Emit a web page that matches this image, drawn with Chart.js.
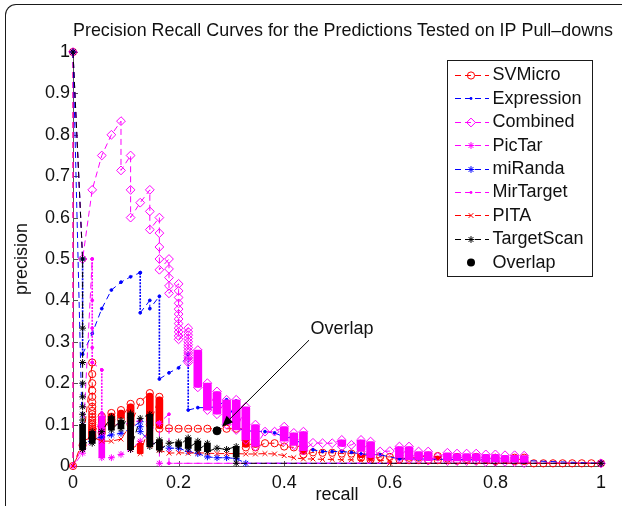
<!DOCTYPE html>
<html>
<head>
<meta charset="utf-8">
<title>Precision Recall Curves</title>
<script src="https://cdn.jsdelivr.net/npm/chart.js@4.4.0/dist/chart.umd.min.js"></script>
<style>
  html, body { margin: 0; padding: 0; background: #ffffff; }
  #wrap { position: relative; width: 622px; height: 506px; overflow: hidden; }
  #wrap canvas { position: absolute; left: 0; top: 0; }
  #frame {
    position: absolute; left: 5px; top: 4px; width: 700px; height: 600px;
    border-top: 1px solid #1a1a1a; border-left: 1px solid #1a1a1a;
    border-top-left-radius: 11px; pointer-events: none;
  }
</style>
</head>
<body>
<div id="wrap">
  <canvas id="chart" width="622" height="506"></canvas>
  <div id="frame"></div>
</div>
<script>
// ---------------------------------------------------------------------------
// Axis tick labels
// ---------------------------------------------------------------------------
const xTickLabels = ['0', '0.2', '0.4', '0.6', '0.8', '1'];
const yTickLabels = ['0', '0.1', '0.2', '0.3', '0.4', '0.5', '0.6', '0.7', '0.8', '0.9', '1'];

// ---------------------------------------------------------------------------
// Curve data: single points (recall, precision) plus dense runs of points
// at one recall level (stackRecall, stackTop, stackBottom)
// ---------------------------------------------------------------------------

// SVMicro
const svmicroRecall = [0, 0, 0.0182,
  0.0364, 0.0364, 0.0364, 0.0364, 0.0364, 0.0364, 0.0364, 0.0364, 0.0364, 0.0364, 0.0364,
  0.0364, 0.0364, 0.0364, 0.0364, 0.0364, 0.0364, 0.0364, 0.0364, 0.0364, 0.0364, 0.0364,
  0.1273, 0.1818, 0.2, 0.2182, 0.2364, 0.2545, 0.2909, 0.3091,
  0.3636, 0.3818, 0.4, 0.4182, 0.4545, 0.4727, 0.4909, 0.5091, 0.5273,
  0.5818, 0.6, 0.6364, 0.6545, 0.7091, 0.7455, 0.7818, 0.8182,
  0.8727, 0.8909, 0.9091, 0.9273, 0.9455, 0.9636, 0.9818, 1];
const svmicroPrecision = [1, 0, 0.05,
  0.25, 0.222, 0.2, 0.182, 0.167, 0.154, 0.143, 0.133, 0.125, 0.118, 0.111,
  0.105, 0.1, 0.095, 0.091, 0.087, 0.083, 0.08, 0.077, 0.074, 0.071, 0.068,
  0.155, 0.091, 0.09, 0.09, 0.09, 0.09, 0.09, 0.09,
  0.055, 0.055, 0.047, 0.045, 0.033, 0.032, 0.032, 0.03, 0.03,
  0.022, 0.022, 0.02, 0.02, 0.018, 0.017, 0.016, 0.016,
  0.0065, 0.0065, 0.0065, 0.0065, 0.0065, 0.0065, 0.0065, 0.0065];
const svmicroStackRecall = [0.0545, 0.0727, 0.0909, 0.1091, 0.1455, 0.1636,
  0.3273, 0.3455, 0.4364, 0.5455, 0.5636, 0.6182, 0.6727, 0.6909, 0.7273, 0.7636, 0.8, 0.8364, 0.8545];
const svmicroStackTop = [0.12, 0.128, 0.135, 0.15, 0.176, 0.167,
  0.09, 0.06, 0.05, 0.03, 0.03, 0.025, 0.025, 0.024, 0.022, 0.022, 0.02, 0.02, 0.02];
const svmicroStackBottom = [0.08, 0.1, 0.115, 0.1, 0.1, 0.09,
  0.045, 0.045, 0.028, 0.02, 0.015, 0.016, 0.014, 0.014, 0.013, 0.013, 0.012, 0.012, 0.012];

// Expression
const expressionRecall = [0, 0.0182, 0.0364, 0.0545, 0.0727, 0.0909, 0.1091, 0.1273,
  0.1455, 0.1455, 0.1818, 0.2, 0.2364, 0.2545, 0.2727, 0.3273, 0.3636, 0.3818,
  0.4, 0.4182, 0.4364, 0.4545, 0.4727, 0.4909, 0.5091, 0.5273, 0.5455, 0.5818,
  0.6182, 0.6545, 0.7091, 0.7636, 0.8182, 0.8545, 1];
const expressionPrecision = [1, 0.5, 0.32, 0.38, 0.425, 0.444, 0.457, 0.467,
  0.4, 0.38, 0.225, 0.237, 0.141, 0.141, 0.143, 0.085, 0.083, 0.08,
  0.07, 0.067, 0.05, 0.039, 0.035, 0.035, 0.035, 0.033, 0.029, 0.027,
  0.017, 0.017, 0.016, 0.015, 0.014, 0.013, 0.0065];
const expressionStackRecall = [0.0182, 0.1273, 0.1636, 0.2182, 0.2909, 0.3091];
const expressionStackTop = [0.5, 0.467, 0.41, 0.27, 0.16, 0.157];
const expressionStackBottom = [0.27, 0.37, 0.21, 0.135, 0.105, 0.092];

// Combined
const combinedRecall = [0, 0.0182, 0.0364, 0.0545, 0.0727, 0.0909, 0.0909,
  0.1091, 0.1091, 0.1091, 0.1273, 0.1455, 0.1455, 0.1455,
  0.1636, 0.1636, 0.1636, 0.1636, 0.1636,
  0.1818, 0.1818, 0.1818, 0.1818, 0.1818,
  0.2, 0.2, 0.2, 0.2, 0.2, 0.2, 0.2, 0.2, 0.2, 0.2, 0.2, 0.2,
  0.2182, 0.2182, 0.2182, 0.2182, 0.2182, 0.2182, 0.2182, 0.2182, 0.2182, 0.2182, 0.2182, 0.2182, 0.2182,
  0.3636, 0.3818, 0.4545, 0.4727, 0.4909, 0.5273, 0.5818, 0.6, 0.6909, 1];
const combinedPrecision = [1, 0.5, 0.667, 0.75, 0.8, 0.833, 0.714,
  0.75, 0.667, 0.6, 0.636, 0.667, 0.615, 0.571,
  0.6, 0.5625, 0.529, 0.5, 0.474,
  0.5, 0.476, 0.455, 0.435, 0.417,
  0.44, 0.423, 0.407, 0.393, 0.379, 0.367, 0.355, 0.344, 0.333, 0.324, 0.314, 0.306,
  0.333, 0.324, 0.316, 0.308, 0.3, 0.293, 0.286, 0.279, 0.273, 0.267, 0.261, 0.255, 0.25,
  0.083, 0.083, 0.056, 0.055, 0.055, 0.051, 0.035, 0.036, 0.022, 0.0065];
const combinedStackRecall = [0.2364, 0.2545, 0.2727, 0.2909, 0.3091, 0.3273, 0.3455,
  0.4, 0.4182, 0.4364, 0.5091, 0.5455, 0.5636, 0.6182, 0.6364, 0.6545, 0.6727,
  0.7091, 0.7273, 0.7455, 0.7636, 0.7818, 0.8, 0.8182, 0.8364, 0.8545];
const combinedStackTop = [0.28, 0.2, 0.18, 0.16, 0.16, 0.143, 0.1,
  0.095, 0.08, 0.083, 0.063, 0.063, 0.059, 0.047, 0.047, 0.035, 0.035,
  0.032, 0.03, 0.03, 0.03, 0.028, 0.028, 0.026, 0.026, 0.025];
const combinedStackBottom = [0.19, 0.135, 0.125, 0.1, 0.087, 0.063, 0.047,
  0.06, 0.05, 0.037, 0.047, 0.035, 0.02, 0.02, 0.015, 0.015, 0.013,
  0.012, 0.012, 0.012, 0.012, 0.01, 0.01, 0.01, 0.009, 0.007];

// PicTar
const pictarRecall = [0, 0, 0.0182, 0.0364, 0.0727, 0.0909, 0.1091, 0.1273, 0.1455, 0.1636, 0.1636, 1];
const pictarPrecision = [1, 0, 0.031, 0.063, 0.02, 0.028, 0.04, 0.06, 0.085, 0.103, 0.0065, 0.0065];
const pictarStackRecall = [0.0545];
const pictarStackTop = [0.12];
const pictarStackBottom = [0.02];

// miRanda
const mirandaRecall = [0, 0.0182, 0.0364, 0.0545, 0.0727, 0.0909, 0.1091,
  0.1273, 0.1273, 0.1273, 0.1455, 0.1636, 0.1818, 0.2, 0.2182, 0.2364,
  0.2545, 0.2727, 0.2909, 0.3091, 0.3273, 1];
const mirandaPrecision = [1, 0.05, 0.065, 0.07, 0.075, 0.079, 0.09,
  0.107, 0.095, 0.083, 0.06, 0.047, 0.043, 0.043, 0.035, 0.03,
  0.022, 0.02, 0.02, 0.018, 0.0065, 0.0065];
const mirandaStackRecall = [];
const mirandaStackTop = [];
const mirandaStackBottom = [];

// MirTarget
const mirtargetRecall = [0, 0.0182, 0.0364, 0.0364, 0.0364, 0.0364, 0.0364,
  0.0545, 0.0545, 0.0727, 0.0909, 0.1091, 0.1273, 0.1455, 0.1636, 0.1818, 0.1818, 1];
const mirtargetPrecision = [0, 0.046, 0.5, 0.4, 0.333, 0.286, 0.25,
  0.232, 0.128, 0.1, 0.1, 0.105, 0.11, 0.105, 0.105, 0.125, 0.0065, 0.0065];
const mirtargetStackRecall = [0.0364, 0.0545];
const mirtargetStackTop = [0.5, 0.232];
const mirtargetStackBottom = [0.25, 0.128];

// PITA
const pitaRecall = [0, 0.0182, 0.0364, 0.0545, 0.0727, 0.0909,
  0.1818, 0.2, 0.2182, 0.2364, 0.2545, 0.2727, 0.2909, 0.3091, 0.3273, 0.3455,
  0.3636, 0.3818, 0.4, 0.4182, 0.4364, 0.4545, 0.4727, 0.4909, 0.5091, 0.5273,
  0.5455, 0.5636, 0.5818, 0.6, 0.6, 1];
const pitaPrecision = [0, 0.06, 0.07, 0.06, 0.06, 0.065,
  0.031, 0.032, 0.031, 0.032, 0.031, 0.03, 0.03, 0.03, 0.029, 0.029,
  0.03, 0.029, 0.025, 0.02, 0.017, 0.017, 0.016, 0.016, 0.015, 0.015,
  0.014, 0.014, 0.013, 0.013, 0.0065, 0.0065];
const pitaStackRecall = [0.1091, 0.1273, 0.1455, 0.1636];
const pitaStackTop = [0.1, 0.055, 0.1, 0.058];
const pitaStackBottom = [0.04, 0.03, 0.05, 0.038];

// TargetScan
const targetscanRecall = [0,
  0.0182, 0.0182, 0.0182, 0.0182, 0.0182, 0.0182, 0.0182, 0.0182,
  0.0545, 0.1273, 0.1818, 0.2727, 0.2909, 0.3091, 1];
const targetscanPrecision = [1,
  0.5, 0.333, 0.25, 0.2, 0.167, 0.143, 0.125, 0.111,
  0.083, 0.115, 0.055, 0.043, 0.04, 0.0065, 0.0065];
const targetscanStackRecall = [0.0182, 0.0364, 0.0727, 0.0909, 0.1091, 0.1455, 0.1636,
  0.2, 0.2182, 0.2364, 0.2545, 0.3091];
const targetscanStackTop = [0.1, 0.083, 0.119, 0.11, 0.128, 0.125, 0.063,
  0.058, 0.068, 0.06, 0.055, 0.047];
const targetscanStackBottom = [0.04, 0.055, 0.087, 0.09, 0.04, 0.047, 0.039,
  0.048, 0.043, 0.038, 0.035, 0.022];

// Overlap
const overlapRecall = [0.2727];
const overlapPrecision = [0.085];

// ---------------------------------------------------------------------------
// Styling
// ---------------------------------------------------------------------------
const FONT_FAMILY = '"Liberation Sans", Arial, Helvetica, sans-serif';
const FONT_SIZE = 18;
const TITLE_SIZE = 17.9;
const TEXT_COLOR = '#111111';
const AXIS_COLOR = '#555555';
const DASH = [6, 4];
const RUN_DASH = [2, 1.2];

const RED = '#ff0000', BLUE = '#0000ff', MAGENTA = '#ff00ff', BLACK = '#000000';

Chart.defaults.font.family = FONT_FAMILY;

// stackWidth > 0: dense runs drawn as filled columns; 0: drawn as a dotted vertical
const series = [
  { label: 'SVMicro', color: RED, marker: 'circle', radius: 3.6, open: true, stackWidth: 7, stackRadius: 4,
    recall: svmicroRecall, precision: svmicroPrecision,
    stackRecall: svmicroStackRecall, stackTop: svmicroStackTop, stackBottom: svmicroStackBottom },
  { label: 'Expression', color: BLUE, marker: 'dot', radius: 1.4, open: false, stackWidth: 0, stackRadius: 0,
    recall: expressionRecall, precision: expressionPrecision,
    stackRecall: expressionStackRecall, stackTop: expressionStackTop, stackBottom: expressionStackBottom },
  { label: 'Combined', color: MAGENTA, marker: 'rectRot', radius: 4.4, open: true, stackWidth: 8, stackRadius: 2,
    recall: combinedRecall, precision: combinedPrecision,
    stackRecall: combinedStackRecall, stackTop: combinedStackTop, stackBottom: combinedStackBottom },
  { label: 'PicTar', color: MAGENTA, marker: 'star', radius: 3.4, open: false, stackWidth: 6, stackRadius: 1,
    recall: pictarRecall, precision: pictarPrecision,
    stackRecall: pictarStackRecall, stackTop: pictarStackTop, stackBottom: pictarStackBottom },
  { label: 'miRanda', color: BLUE, marker: 'star', radius: 3.4, open: false, stackWidth: 6, stackRadius: 1,
    recall: mirandaRecall, precision: mirandaPrecision,
    stackRecall: mirandaStackRecall, stackTop: mirandaStackTop, stackBottom: mirandaStackBottom },
  { label: 'MirTarget', color: MAGENTA, marker: 'dot', radius: 1.4, open: false, stackWidth: 0, stackRadius: 0,
    recall: mirtargetRecall, precision: mirtargetPrecision,
    stackRecall: mirtargetStackRecall, stackTop: mirtargetStackTop, stackBottom: mirtargetStackBottom },
  { label: 'PITA', color: RED, marker: 'crossRot', radius: 3.4, open: false, stackWidth: 6, stackRadius: 1,
    recall: pitaRecall, precision: pitaPrecision,
    stackRecall: pitaStackRecall, stackTop: pitaStackTop, stackBottom: pitaStackBottom },
  { label: 'TargetScan', color: BLACK, marker: 'star', radius: 3.4, open: false, stackWidth: 6, stackRadius: 1,
    recall: targetscanRecall, precision: targetscanPrecision,
    stackRecall: targetscanStackRecall, stackTop: targetscanStackTop, stackBottom: targetscanStackBottom }
];

// Ordered path of a curve: single points and run ends, by recall, then precision falling
function curvePoints(s) {
  const pts = s.recall.map((r, i) => ({ x: r, y: s.precision[i] }));
  s.stackRecall.forEach((r, i) => {
    pts.push({ x: r, y: s.stackTop[i] });
    pts.push({ x: r, y: s.stackBottom[i] });
  });
  pts.sort((a, b) => (a.x - b.x) || (b.y - a.y));
  return pts;
}

function stackBars(s) {
  return s.stackRecall.map((r, i) => ({ x: r, y: [s.stackBottom[i], s.stackTop[i]] }));
}

// a segment inside one recall level that belongs to a dense run
function isRunSegment(s, ctx) {
  const x0 = ctx.p0.parsed.x, x1 = ctx.p1.parsed.x;
  if (x0 !== x1) return false;
  const y0 = ctx.p0.parsed.y, y1 = ctx.p1.parsed.y;
  return s.stackRecall.some((r, i) => r === x0 &&
    Math.max(y0, y1) <= s.stackTop[i] + 1e-9 && Math.min(y0, y1) >= s.stackBottom[i] - 1e-9);
}

const datasets = [];
series.forEach((s, i) => {
  const level = 100 - 2 * i;           // later curves are painted over earlier ones
  if (s.stackWidth > 0) {
    datasets.push({
      type: 'bar',
      label: s.label + ' runs',
      data: stackBars(s),
      backgroundColor: s.color,
      borderWidth: 0,
      borderSkipped: false,
      borderRadius: s.stackRadius,
      barThickness: s.stackWidth,
      grouped: false,
      order: level
    });
  }
  const ds = {
    type: 'line',
    label: s.label,
    data: curvePoints(s),
    borderColor: s.color,
    borderWidth: 1,
    borderDash: DASH,
    pointStyle: s.marker === 'dot' ? 'circle' : s.marker,
    pointRadius: s.radius,
    pointBorderWidth: 1,
    pointBorderColor: s.color,
    pointBackgroundColor: s.open ? 'rgba(0,0,0,0)' : s.color,
    tension: 0,
    fill: false,
    clip: false,
    order: level - 1
  };
  if (s.stackWidth === 0) {
    ds.segment = {
      borderDash: ctx => isRunSegment(s, ctx) ? RUN_DASH : undefined,
      borderWidth: ctx => isRunSegment(s, ctx) ? 1.6 : undefined
    };
  }
  datasets.push(ds);
});
datasets.push({
  type: 'line',
  label: 'Overlap',
  data: overlapRecall.map((r, i) => ({ x: r, y: overlapPrecision[i] })),
  showLine: false,
  pointStyle: 'circle',
  pointRadius: 4,
  pointBorderWidth: 1,
  pointBorderColor: BLACK,
  pointBackgroundColor: BLACK,
  clip: false,
  order: 0
});

// ---------------------------------------------------------------------------
// Marker drawing for the legend keys
// ---------------------------------------------------------------------------
function drawMarker(ctx, style, x, y, r, color, open) {
  ctx.save();
  ctx.strokeStyle = color;
  ctx.fillStyle = color;
  ctx.lineWidth = 1;
  ctx.setLineDash([]);
  ctx.beginPath();
  if (style === 'circle') {
    ctx.arc(x, y, r, 0, Math.PI * 2);
    if (!open) ctx.fill();
    ctx.stroke();
  } else if (style === 'dot') {
    ctx.arc(x, y, r, 0, Math.PI * 2);
    ctx.fill();
  } else if (style === 'rectRot') {
    ctx.moveTo(x, y - r); ctx.lineTo(x + r, y); ctx.lineTo(x, y + r); ctx.lineTo(x - r, y); ctx.closePath();
    ctx.stroke();
  } else if (style === 'crossRot' || style === 'star') {
    const d = r * Math.SQRT1_2;
    ctx.moveTo(x - d, y - d); ctx.lineTo(x + d, y + d);
    ctx.moveTo(x - d, y + d); ctx.lineTo(x + d, y - d);
    if (style === 'star') {
      ctx.moveTo(x, y - r); ctx.lineTo(x, y + r);
      ctx.moveTo(x - r, y); ctx.lineTo(x + r, y);
    }
    ctx.stroke();
  }
  ctx.restore();
}

// ---------------------------------------------------------------------------
// Plot decorations: inward ticks, titles, annotation, legend box
// ---------------------------------------------------------------------------
const annotationText = 'Overlap';
const annotationTextAt = { x: 0.45, y: 0.33 };
const annotationTailAt = { x: 0.447, y: 0.304 };

const decorations = {
  id: 'decorations',
  beforeDatasetsDraw(chart) {
    const { ctx, chartArea: a, scales: { x, y } } = chart;
    ctx.save();
    ctx.strokeStyle = AXIS_COLOR;
    ctx.lineWidth = 1;
    y.ticks.forEach(t => {
      const py = Math.round(y.getPixelForValue(t.value)) + 0.5;
      ctx.beginPath(); ctx.moveTo(a.left, py); ctx.lineTo(a.left + 5, py); ctx.stroke();
    });
    x.ticks.forEach(t => {
      const px = Math.round(x.getPixelForValue(t.value)) + 0.5;
      ctx.beginPath(); ctx.moveTo(px, a.bottom); ctx.lineTo(px, a.bottom - 5); ctx.stroke();
    });
    ctx.restore();
  },
  afterDraw(chart) {
    const { ctx, chartArea: a, scales: { x, y } } = chart;
    ctx.save();
    ctx.fillStyle = TEXT_COLOR;

    // chart title
    ctx.font = TITLE_SIZE + 'px ' + FONT_FAMILY;
    ctx.textAlign = 'center';
    ctx.textBaseline = 'middle';
    ctx.fillText('Precision Recall Curves for the Predictions Tested on IP Pull\u2013downs', 343, 31);

    // axis titles
    ctx.font = FONT_SIZE + 'px ' + FONT_FAMILY;
    ctx.fillText('recall', (a.left + a.right) / 2, 495);
    ctx.save();
    ctx.translate(22, (a.top + a.bottom) / 2);
    ctx.rotate(-Math.PI / 2);
    ctx.fillText('precision', 0, 0);
    ctx.restore();

    // annotation with arrow to the overlap point
    const tx = x.getPixelForValue(annotationTextAt.x), ty = y.getPixelForValue(annotationTextAt.y);
    ctx.textAlign = 'left';
    ctx.fillText(annotationText, tx, ty);
    const tail = { x: x.getPixelForValue(annotationTailAt.x), y: y.getPixelForValue(annotationTailAt.y) };
    const ov = { x: x.getPixelForValue(overlapRecall[0]), y: y.getPixelForValue(overlapPrecision[0]) };
    const tip = { x: ov.x + 5, y: ov.y - 4 };
    const ang = Math.atan2(tip.y - tail.y, tip.x - tail.x);
    const headLen = 11, headHalf = 4.5;
    const base = { x: tip.x - headLen * Math.cos(ang), y: tip.y - headLen * Math.sin(ang) };
    ctx.strokeStyle = '#000';
    ctx.lineWidth = 1;
    ctx.beginPath(); ctx.moveTo(tail.x, tail.y); ctx.lineTo(base.x, base.y); ctx.stroke();
    ctx.fillStyle = '#000';
    ctx.beginPath();
    ctx.moveTo(tip.x, tip.y);
    ctx.lineTo(base.x + headHalf * Math.sin(ang), base.y - headHalf * Math.cos(ang));
    ctx.lineTo(base.x - headHalf * Math.sin(ang), base.y + headHalf * Math.cos(ang));
    ctx.closePath();
    ctx.fill();

    // legend box
    const bx = 447.5, by = 60.5, bw = 145, bh = 216;
    ctx.fillStyle = '#ffffff';
    ctx.fillRect(bx, by, bw, bh);
    ctx.strokeStyle = '#1a1a1a';
    ctx.strokeRect(bx, by, bw, bh);
    const rowTop = 75, rowStep = 23.4;
    const entries = series.map(s => ({ label: s.label, color: s.color, marker: s.marker, radius: s.radius, open: s.open, line: true }))
      .concat([{ label: 'Overlap', color: BLACK, marker: 'dot', radius: 4, open: false, line: false }]);
    entries.forEach((e, i) => {
      const ry = rowTop + i * rowStep;
      if (e.line) {
        ctx.save();
        ctx.strokeStyle = e.color;
        ctx.lineWidth = 1;
        ctx.setLineDash(DASH);
        ctx.beginPath(); ctx.moveTo(455, Math.round(ry) + 0.5); ctx.lineTo(489, Math.round(ry) + 0.5); ctx.stroke();
        ctx.restore();
      }
      drawMarker(ctx, e.marker, 471, Math.round(ry) + 0.5, e.marker === 'dot' && e.line ? 1.4 : e.radius, e.color, e.open);
      ctx.fillStyle = TEXT_COLOR;
      ctx.textAlign = 'left';
      ctx.textBaseline = 'middle';
      ctx.fillText(e.label, 492.5, ry + 0.5);
    });
    ctx.restore();
  }
};

// ---------------------------------------------------------------------------
// Chart
// ---------------------------------------------------------------------------
new Chart(document.getElementById('chart'), {
  type: 'line',
  data: { datasets },
  options: {
    responsive: false,
    animation: false,
    events: [],
    layout: { padding: { top: 52, right: 21, bottom: 0, left: 0 } },
    plugins: { legend: { display: false }, title: { display: false }, tooltip: { enabled: false } },
    scales: {
      x: {
        type: 'linear', min: 0, max: 1, offset: false,
        grid: { display: false, drawTicks: false, offset: false },
        border: { display: true, color: AXIS_COLOR, width: 1 },
        ticks: {
          stepSize: 0.2, autoSkip: false, maxRotation: 0, padding: 6,
          color: TEXT_COLOR, font: { size: FONT_SIZE },
          callback: (v, i) => xTickLabels[i]
        },
        afterFit: s => { s.height = 40; }
      },
      y: {
        type: 'linear', min: 0, max: 1,
        grid: { display: false, drawTicks: false },
        border: { display: true, color: AXIS_COLOR, width: 1 },
        ticks: {
          stepSize: 0.1, autoSkip: false, padding: 3,
          color: TEXT_COLOR, font: { size: FONT_SIZE },
          callback: (v, i) => yTickLabels[i]
        },
        afterFit: s => { s.width = 73; }
      }
    }
  },
  plugins: [decorations]
});
</script>
</body>
</html>
